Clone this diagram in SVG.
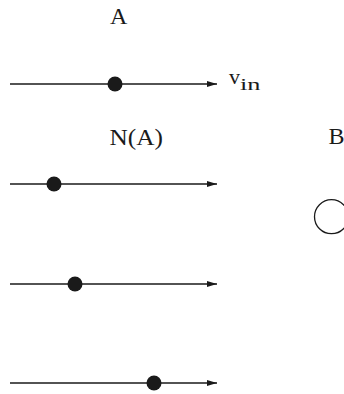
<svg xmlns="http://www.w3.org/2000/svg" width="344" height="394" viewBox="0 0 344 394">
<style>
.t{font-family:"Liberation Serif","DejaVu Serif",serif;font-size:24px;fill:#1a1a1a}
.v{font-size:22px}
.s{font-size:17px}
.ln{stroke:#1a1a1a;stroke-width:1.3;fill:none}
.dot{fill:#1a1a1a}
</style>
<defs>
<marker id="ah" markerWidth="10" markerHeight="6" refX="10" refY="3" orient="auto" markerUnits="userSpaceOnUse">
<path d="M0,0 L10,3 L0,6 Z" fill="#1a1a1a"/>
</marker>
</defs>
<g id="labels">
<text class="t" x="110" y="24">A</text>
<text class="t v" x="229" y="84">v</text>
<text class="t s" x="240" y="90" textLength="20.5" lengthAdjust="spacingAndGlyphs">in</text>
<text class="t" x="109.5" y="145" textLength="53.5" lengthAdjust="spacingAndGlyphs">N(A)</text>
<text class="t" x="328.5" y="144">B</text>
</g>
<g id="connectors">
<line class="ln" x1="10" y1="84" x2="217" y2="84" marker-end="url(#ah)"/>
<line class="ln" x1="10" y1="184" x2="217" y2="184" marker-end="url(#ah)"/>
<line class="ln" x1="10" y1="284" x2="217" y2="284" marker-end="url(#ah)"/>
<line class="ln" x1="10" y1="383" x2="217" y2="383" marker-end="url(#ah)"/>
</g>
<g id="dotA"><circle class="dot" cx="115" cy="84" r="7.5"/></g>
<g id="dotN1"><circle class="dot" cx="54" cy="184" r="7.5"/></g>
<g id="dotN2"><circle class="dot" cx="75" cy="284" r="7.5"/></g>
<g id="dotN3"><circle class="dot" cx="154" cy="383" r="7.5"/></g>
<g id="nodeB"><circle class="ln" cx="331.5" cy="216.7" r="17"/></g>
</svg>
